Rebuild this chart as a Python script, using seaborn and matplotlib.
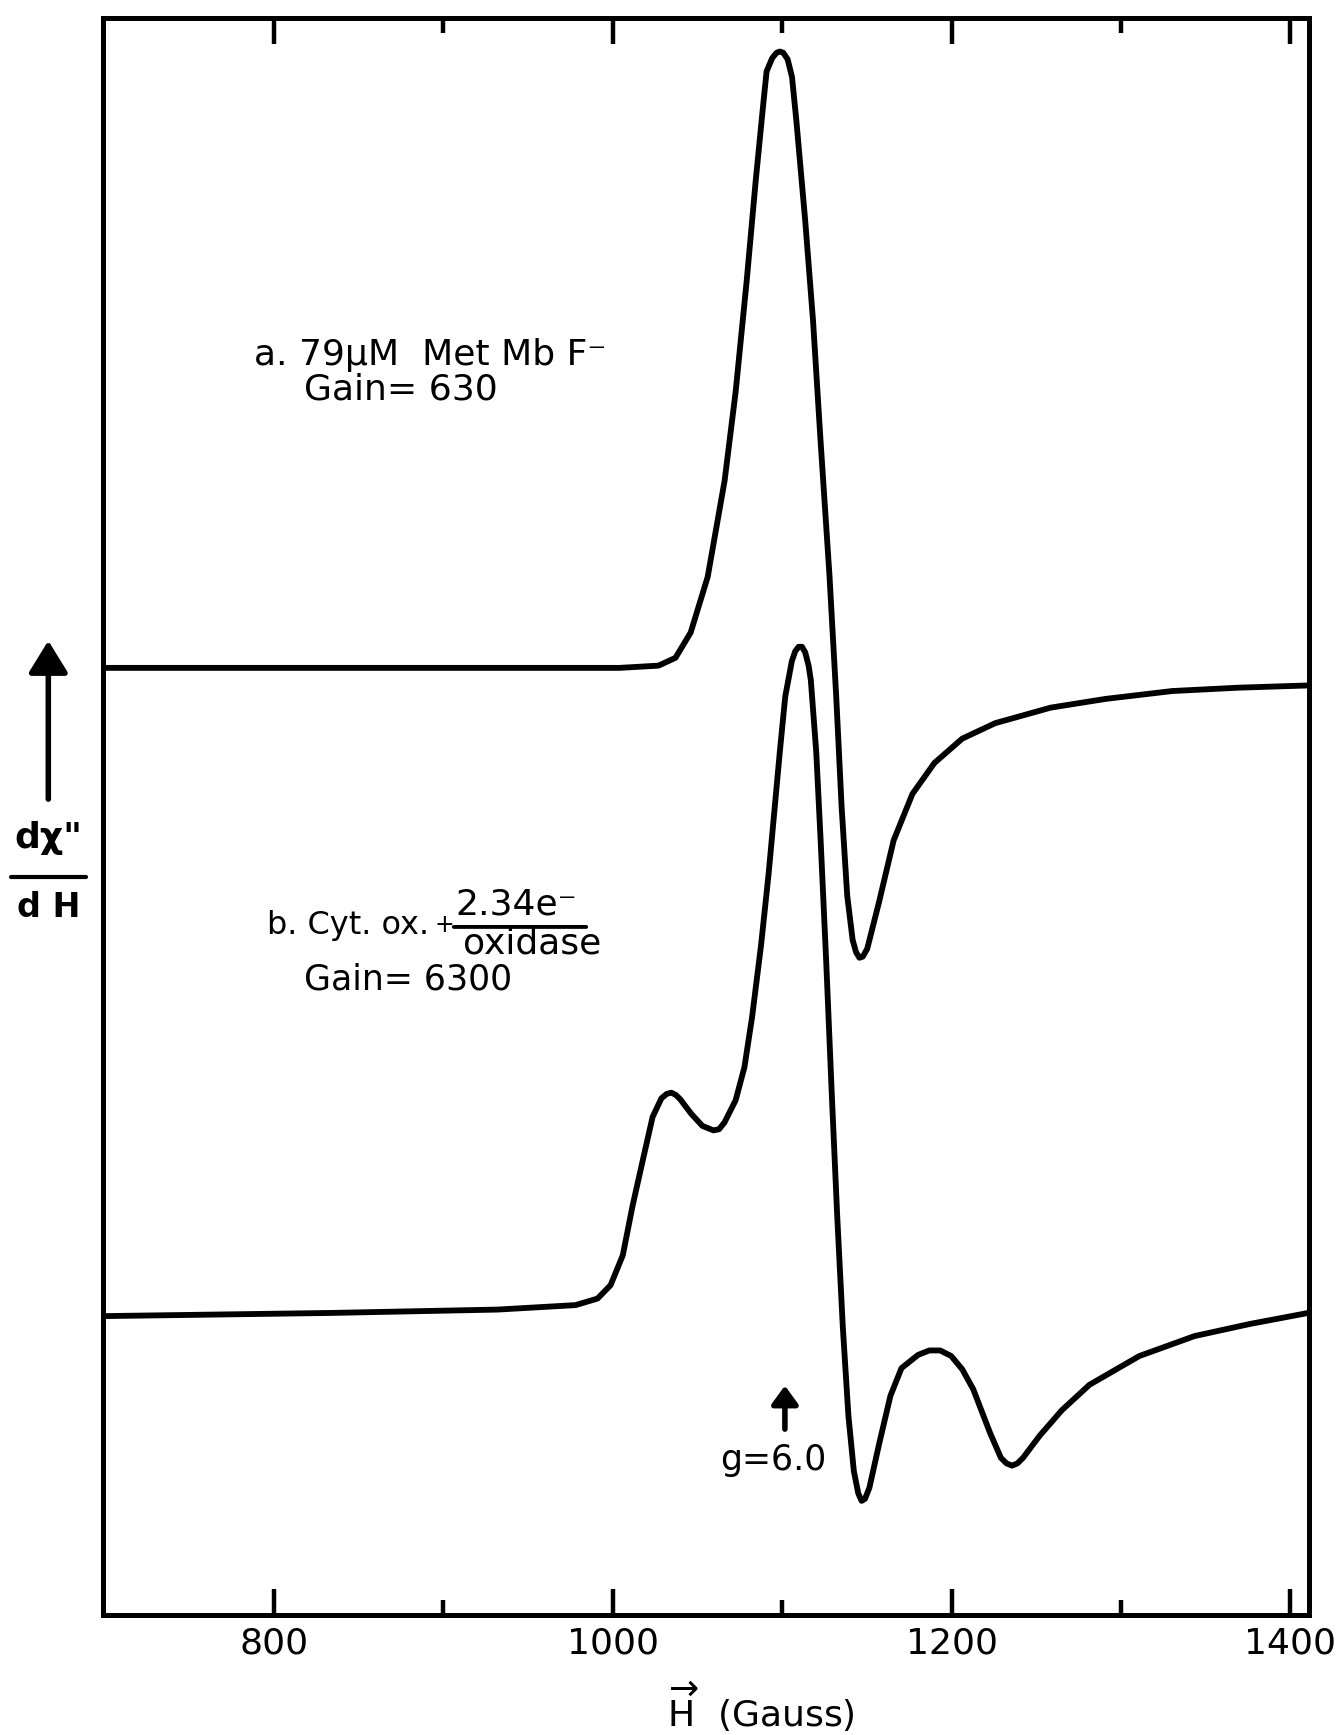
import numpy as np
import pandas as pd
import matplotlib
matplotlib.use("Agg")
import matplotlib.pyplot as plt
import seaborn as sns

# ---- data ----
# trace a: 79 uM Met Mb F-, Gain 630
field_a = [699, 900, 1004, 1027, 1037, 1046, 1056, 1066, 1072.5, 1079,
           1084.3, 1088.8, 1090.8, 1094.1, 1096.7, 1098.6, 1100.6, 1103.2, 1105.8, 1108.4,
           1113.6, 1118.2, 1122.7, 1127.9, 1131.9, 1135.1, 1138.4, 1141.6, 1143.6, 1145.6,
           1147.6, 1150.2, 1157.3, 1165.8, 1176.9, 1189.9, 1206.3, 1225.8, 1258.5, 1291.1,
           1330.3, 1369.4, 1410.6]
signal_a = [593, 593, 593, 594.4, 599.3, 615.2, 649.9, 710.1, 765.6, 834.8,
            897.2, 945.7, 966.5, 974.8, 978.2, 978.9, 978.2, 974.1, 963.0, 935.3,
            872.9, 810.6, 734.4, 651.2, 575.0, 505.7, 450.3, 422.6, 415.0, 411.5,
            412.2, 417.1, 446.9, 485.0, 514.1, 533.5, 548.7, 558.4, 568.1, 573.6,
            578.5, 580.6, 582.0]

# trace b: Cyt. ox. + 2.34 e-/oxidase, Gain 6300
field_b = [699, 834, 932, 978, 991, 998.7, 1005.9, 1011.7, 1018.3, 1023.5,
           1028.7, 1031.9, 1034.6, 1037.2, 1039.8, 1046.3, 1052.9, 1056.2, 1059.4, 1062.7,
           1065.9, 1072.5, 1077.7, 1082.2, 1087.5, 1092, 1095.3, 1098.6, 1101.8, 1105.7,
           1107.7, 1109.7, 1111.7, 1113.6, 1115.6, 1116.9, 1120.1, 1122.7, 1126, 1129.3,
           1132.5, 1135.8, 1139.1, 1142.3, 1144.9, 1146.9, 1148.9, 1151.5, 1157.3, 1163.9,
           1170.4, 1180.2, 1186.8, 1193.3, 1199.8, 1206.3, 1212.8, 1222.6, 1229.1, 1232.4,
           1235.7, 1238.9, 1242.2, 1252, 1265.1, 1281.4, 1310.8, 1343.4, 1376.1, 1410.6]
signal_b = [187.1, 189.1, 191.2, 194, 198.1, 206.5, 225.2, 256.3, 287.5, 311.8,
            323.5, 326.3, 327, 325.6, 322.9, 313.8, 306.2, 304.8, 303.4, 304.1,
            308.3, 322.2, 342.9, 374.1, 419.1, 464.2, 502.3, 540.4, 575, 597.2,
            603.4, 606.2, 606.2, 602.7, 594.4, 585.4, 540.4, 485, 408.8, 325.6,
            249.4, 180.1, 124.7, 90.1, 76.2, 71.4, 72.7, 79.7, 107.4, 137.2,
            154.5, 162.8, 165.6, 165.6, 162.1, 153.8, 141.3, 114.3, 98.4, 94.9,
            93.5, 94.9, 98.4, 112.2, 128.2, 144.1, 162.1, 174.6, 182.2, 189.1]

major_ticks = [800, 1000, 1200, 1400]
minor_ticks = [900, 1100, 1300]
tick_labels = ["800", "1000", "1200", "1400"]

g_marker_field = 1101.6
g_marker_text = "g=6.0"

# ---- style ----
sns.set_style("white")
plt.rcParams['font.family'] = ['DejaVu Sans']
plt.rcParams['mathtext.fontset'] = 'dejavusans'
plt.rcParams['text.color'] = 'black'
plt.rcParams['xtick.color'] = 'black'
plt.rcParams['xtick.labelcolor'] = 'black'

fig = plt.figure(figsize=(13.42, 17.35), dpi=100)
ax = fig.add_axes([0.0767, 0.0692, 0.8987, 0.9205])

df_a = pd.DataFrame({"H": field_a, "S": signal_a})
df_b = pd.DataFrame({"H": field_b, "S": signal_b})
sns.lineplot(data=df_a, x="H", y="S", ax=ax, color="black", lw=4.2,
             sort=False, estimator=None)
sns.lineplot(data=df_b, x="H", y="S", ax=ax, color="black", lw=4.2,
             sort=False, estimator=None)
for ln in ax.lines:
    ln.set_solid_joinstyle("round")
    ln.set_solid_capstyle("round")

ax.set_xlim(699, 1411)
ax.set_ylim(0, 1000)
ax.set_xlabel("")
ax.set_ylabel("")
ax.set_yticks([])
ax.set_xticks(major_ticks)
ax.set_xticklabels(tick_labels)
ax.set_xticks(minor_ticks, minor=True)
ax.tick_params(axis="x", which="major", direction="in", length=19, width=3.2,
               top=True, bottom=True, labelsize=26, pad=8, color="black")
ax.tick_params(axis="x", which="minor", direction="in", length=11, width=3.2,
               top=True, bottom=True, color="black")
for sp in ax.spines.values():
    sp.set_visible(True)
    sp.set_color("black")
    sp.set_linewidth(3.6)

fs = 25
# labels of the traces
ax.text(0.1252, 0.789, "a. 79μM  Met Mb F⁻", transform=ax.transAxes,
        fontsize=26, ha="left", va="center")
ax.text(0.1667, 0.767, "Gain= 630", transform=ax.transAxes,
        fontsize=26, ha="left", va="center")
ax.text(0.136, 0.432, "b. Cyt. ox.", transform=ax.transAxes,
        fontsize=23, ha="left", va="center")
ax.text(0.2830, 0.432, "+", transform=ax.transAxes,
        fontsize=17, ha="center", va="center")
ax.text(0.2925, 0.4446, "2.34e⁻", transform=ax.transAxes,
        fontsize=26, ha="left", va="center")
ax.annotate("", xy=(0.4030, 0.4308), xytext=(0.2886, 0.4308),
            xycoords="axes fraction", textcoords="axes fraction",
            arrowprops=dict(arrowstyle="-", lw=2.8, color="black"))
ax.text(0.2985, 0.4202, "oxidase", transform=ax.transAxes,
        fontsize=26, ha="left", va="center")
ax.text(0.1667, 0.3976, "Gain= 6300", transform=ax.transAxes,
        fontsize=fs, ha="left", va="center")

# g = 6.0 marker
ax.annotate("", xy=(g_marker_field, 145.3), xytext=(g_marker_field, 114.6),
            xycoords="data",
            arrowprops=dict(arrowstyle="-|>,head_length=0.55,head_width=0.4",
                            mutation_scale=20, lw=4, color="black"))
ax.text(1094.5, 97, g_marker_text, fontsize=fs, ha="center", va="center")

# y-axis label: arrow and dX''/dH
fig.patches.append(matplotlib.patches.FancyArrowPatch(
    (0.0360, 0.5378), (0.0360, 0.6323), transform=fig.transFigure,
    arrowstyle="-|>,head_length=0.65,head_width=0.4", mutation_scale=30,
    lw=4, color="black"))
fig.text(0.0360, 0.5112, 'dχ"', fontsize=26, fontweight="bold",
         ha="center", va="baseline")
fig.lines.append(matplotlib.lines.Line2D([0.0082, 0.0643], [0.4948, 0.4948],
                                         transform=fig.transFigure,
                                         color="black", lw=3))
fig.text(0.0360, 0.4767, "d H", fontsize=24, fontweight="bold",
         ha="center", va="center")

# x-axis label
fig.text(0.567, 0.0165, r"$\overrightarrow{\mathrm{H}}$  (Gauss)", fontsize=26,
         ha="center", va="center")

fig.savefig("out.png", dpi=100)
